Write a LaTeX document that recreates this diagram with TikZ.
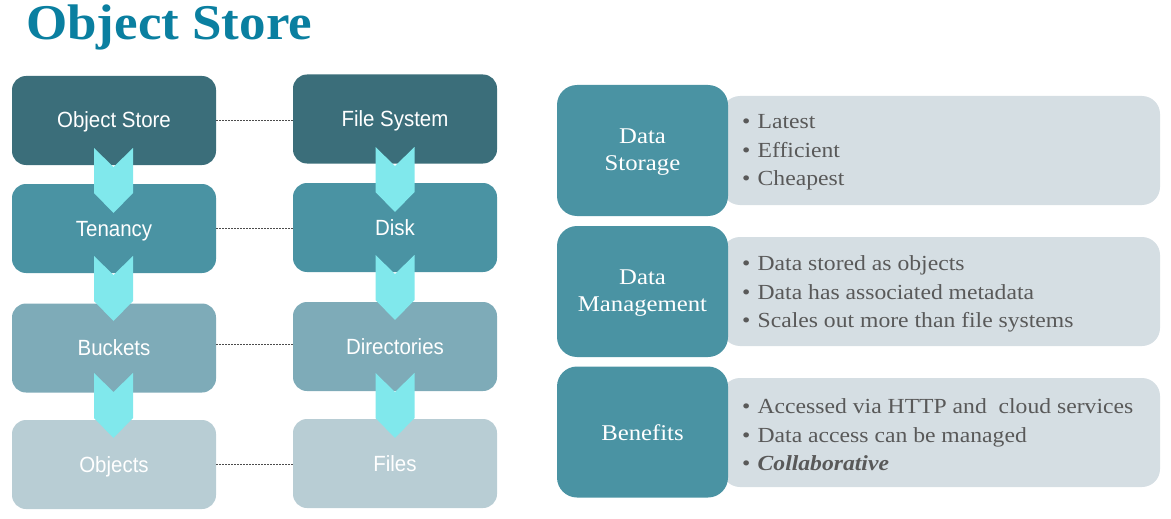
\documentclass[tikz,border=0pt]{standalone}
\usepackage{fontspec}
\setmainfont{Liberation Serif}
\newfontfamily\narrowsans[FakeStretch=0.93]{Liberation Sans}
\newfontfamily\widserif[FakeStretch=1.1]{Liberation Serif}
\newfontfamily\titleserif[FakeStretch=1.06]{Liberation Serif}
\begin{document}
\begin{tikzpicture}[x=1pt,y=-1pt]
\definecolor{cDark}{HTML}{3B6E7A}
\definecolor{cMid}{HTML}{4A93A3}
\definecolor{cLight}{HTML}{7EABB8}
\definecolor{cPale}{HTML}{B8CDD4}
\definecolor{cChev}{HTML}{80E8EC}
\definecolor{cTitle}{HTML}{0A7FA0}
\definecolor{cGrey}{HTML}{D5DEE3}
\definecolor{cText}{HTML}{595959}
\tikzset{
  lbox/.style={rounded corners=14pt, minimum width=204pt, minimum height=89pt, inner sep=0pt,
     text height=16pt, text depth=1pt,
     text=white, font=\narrowsans\fontsize{22}{26}\selectfont},
  tbox/.style={rounded corners=20pt, fill=cMid, minimum width=171pt, minimum height=131pt, inner sep=0pt},
  tlabel/.style={inner sep=0pt, text=white, align=center, font=\widserif\fontsize{22.5}{27}\selectfont},
  gbox/.style={rounded corners=18pt, fill=cGrey, minimum width=438pt, minimum height=109pt, inner sep=0pt},
  blist/.style={anchor=west, align=left, text=cText, font=\widserif\fontsize{21.5}{28.5}\selectfont, inner sep=0pt},
  link/.style={dash pattern=on 2pt off 1pt, line width=0.6pt, draw=black!70},
  chevfill/.style={fill=cChev}
}
\useasboundingbox (0,0) rectangle (1171,519);
% title
\node[anchor=west, inner sep=0pt, text=cTitle, font=\titleserif\bfseries\fontsize{50}{52}\selectfont] (title) at (26,27) {Object Store};
% left boxes
\node[lbox, fill=cDark] (os) at (114,120.5) {Object Store};
\node[lbox, fill=cMid] (ten) at (114,228.5) {Tenancy};
\node[lbox, fill=cLight] (buck) at (114,348) {Buckets};
\node[lbox, fill=cPale] (obj) at (114,464.5) {Objects};
\node[lbox, fill=cDark] (fs) at (395,119) {File System};
\node[lbox, fill=cMid] (disk) at (395,227.5) {Disk};
\node[lbox, fill=cLight] (dir) at (395,346.5) {Directories};
\node[lbox, fill=cPale] (files) at (395,463.5) {Files};
% dashed links
\draw[link] (os.east) -- (os.east -| fs.west);
\draw[link] (ten.east) -- (ten.east -| disk.west);
\draw[link] ([yshift=3.5pt]buck.east) -- ([yshift=3.5pt]buck.east -| dir.west);
\draw[link] (obj.east) -- (obj.east -| files.west);
% chevrons
\foreach \cx/\ty in {113.5/148, 113.5/256, 113.5/373, 395/147, 395/255, 395/373}{
  \fill[chevfill] (\cx-19.5,\ty) -- (\cx,\ty+19) -- (\cx+19.5,\ty) -- (\cx+19.5,\ty+45) -- (\cx,\ty+65) -- (\cx-19.5,\ty+45) -- cycle;
}
% right side
\node[gbox] (g1) at (941,150.5) {};
\node[gbox] (g2) at (941,291.5) {};
\node[gbox] (g3) at (941,432.5) {};
\node[tbox] (ds) at (642.5,150.5) {};
\node[tbox] (dm) at (642.5,291.5) {};
\node[tbox] (bn) at (642.5,432) {};
\node[tlabel] (dst) at ([yshift=-2pt]ds.center) {Data\\Storage};
\node[tlabel] (dmt) at ([yshift=-2pt]dm.center) {Data\\Management};
\node[tlabel] (bnt) at ([yshift=-1pt]bn.center) {Benefits};
\node[blist] (l1) at (742,152.5) {\textbullet\,\,Latest\\\textbullet\,\,Efficient\\\textbullet\,\,Cheapest};
\node[blist] (l2) at (742,294) {\textbullet\,\,Data stored as objects\\\textbullet\,\,Data has associated metadata\\\textbullet\,\,Scales out more than file systems};
\node[blist] (l3) at (742,435) {\textbullet\,\,Accessed via HTTP and\ \ cloud services\\\textbullet\,\,Data access can be managed\\\textbullet\,\,\textbf{\textit{Collaborative}}};
\end{tikzpicture}
\end{document}
